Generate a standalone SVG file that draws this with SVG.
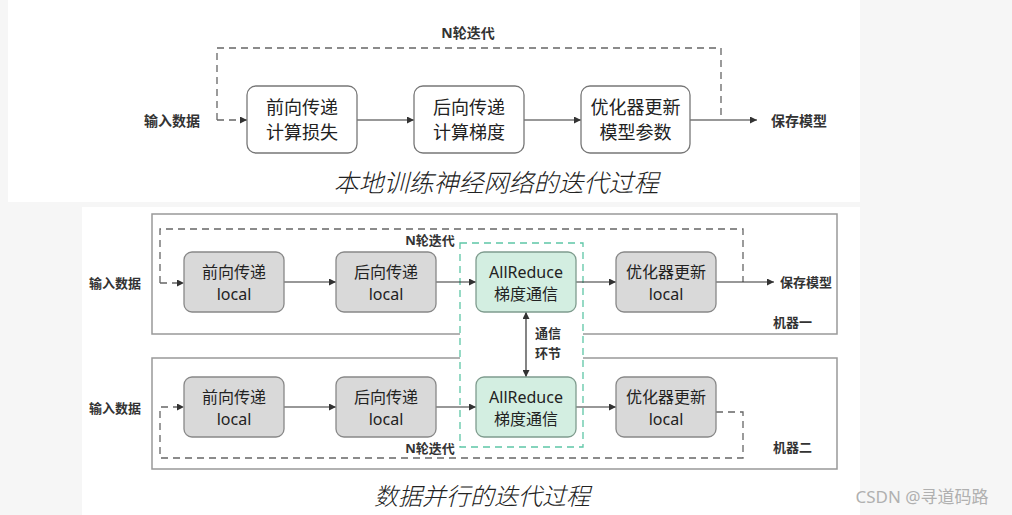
<svg xmlns="http://www.w3.org/2000/svg" width="1012" height="515" viewBox="0 0 1012 515">
<defs>
<marker id="ah" viewBox="0 0 10 10" refX="10" refY="5" markerWidth="7" markerHeight="7" markerUnits="userSpaceOnUse" orient="auto-start-reverse">
<path d="M0,0 L10,5 L0,10 z" fill="#333"/>
</marker>
</defs>
<style>
text{font-family:"Noto Sans","Noto Sans CJK SC",sans-serif;fill:#222;dominant-baseline:central}
.lbl{font-size:13px;font-weight:bold;fill:#333}
.lbt{font-size:14px}
.bx{font-size:18px;text-anchor:middle;fill:#222}
.bs{font-size:16px;text-anchor:middle;fill:#222}
.title{font-size:25px;font-style:italic;text-anchor:middle;fill:#222;font-weight:300}
.wbox{fill:#fff;stroke:#777;stroke-width:1.3}
.gbox{fill:#d9d9d9;stroke:#888;stroke-width:1.3}
.abox{fill:#d3eee1;stroke:#7f9c8e;stroke-width:1.3}
.mach{fill:none;stroke:#999;stroke-width:1.5}
.dash{fill:none;stroke:#666;stroke-width:1.3;stroke-dasharray:7 5}
.sol{fill:none;stroke:#333;stroke-width:1.2}
</style>
<rect x="0" y="0" width="1012" height="515" fill="#f6f6f6"/>
<rect x="8" y="0" width="852" height="202" fill="#fff"/>
<rect x="82" y="207" width="778" height="308" fill="#fff"/>

<!-- top diagram -->
<g id="top-connectors">
<path class="dash" d="M217,120 L217,48 L721,48 L721,120"/>
<path class="dash" d="M217,120 L247,120" marker-end="url(#ah)"/>
<path class="sol" d="M357,120 L414,120" marker-end="url(#ah)"/>
<path class="sol" d="M524,120 L581,120" marker-end="url(#ah)"/>
<path class="sol" d="M690,120 L757,120" marker-end="url(#ah)"/>
</g>
<g id="top-labels">
<text class="lbl lbt" x="468" y="32" text-anchor="middle">N轮迭代</text>
<text class="lbl lbt" x="172" y="120" text-anchor="middle">输入数据</text>
<text class="lbl lbt" x="799" y="120" text-anchor="middle">保存模型</text>
</g>
<g id="t-forward">
<rect class="wbox" x="247" y="86" width="110" height="67" rx="9"/>
<text class="bx" x="302" y="107">前向传递</text>
<text class="bx" x="302" y="132">计算损失</text>
</g>
<g id="t-backward">
<rect class="wbox" x="414" y="86" width="110" height="67" rx="9"/>
<text class="bx" x="469" y="107">后向传递</text>
<text class="bx" x="469" y="132">计算梯度</text>
</g>
<g id="t-optim">
<rect class="wbox" x="581" y="86" width="109" height="67" rx="9"/>
<text class="bx" x="635.5" y="107">优化器更新</text>
<text class="bx" x="635.5" y="132">模型参数</text>
</g>
<text class="title" x="496" y="182">本地训练神经网络的迭代过程</text>

<!-- bottom diagram -->
<g id="machine1">
<rect class="mach" x="152" y="214" width="685" height="120"/>
<text class="lbl" x="773" y="322">机器一</text>
</g>
<g id="machine2">
<rect class="mach" x="152" y="358" width="685" height="111"/>
<text class="lbl" x="773" y="447">机器二</text>
</g>
<g id="comm-region">
<rect x="460" y="243" width="123" height="204" fill="#fff" stroke="#5ec6a6" stroke-width="1.3" stroke-dasharray="7 5"/>
</g>

<g id="connectors">
<path class="dash" d="M160,283 L160,229 L743,229 L743,282"/>
<path class="dash" d="M160,283 L184,283" marker-end="url(#ah)"/>
<path class="sol" d="M284,282 L336,282" marker-end="url(#ah)"/>
<path class="sol" d="M436,282 L476,282" marker-end="url(#ah)"/>
<path class="sol" d="M576,282 L616,282" marker-end="url(#ah)"/>
<path class="sol" d="M716,282 L774,282" marker-end="url(#ah)"/>
<path class="sol" d="M526,312 L526,377" marker-start="url(#ah)" marker-end="url(#ah)"/>
<path class="dash" d="M716,412 L743,412 L743,458 L160,458 L160,407 L184,407" marker-end="url(#ah)"/>
<path class="sol" d="M284,407 L336,407" marker-end="url(#ah)"/>
<path class="sol" d="M436,407 L476,407" marker-end="url(#ah)"/>
<path class="sol" d="M576,407 L616,407" marker-end="url(#ah)"/>
</g>

<g id="bottom-labels">
<text class="lbl" x="115" y="283" text-anchor="middle">输入数据</text>
<text class="lbl" x="115" y="408" text-anchor="middle">输入数据</text>
<text class="lbl" x="780" y="282">保存模型</text>
<text class="lbl" x="430" y="240" text-anchor="middle">N轮迭代</text>
<text class="lbl" x="430" y="448" text-anchor="middle">N轮迭代</text>
<text class="lbl" x="548" y="333" text-anchor="middle">通信</text>
<text class="lbl" x="548" y="353" text-anchor="middle">环节</text>
</g>

<g id="m1-forward">
<rect class="gbox" x="184" y="252" width="100" height="60" rx="8"/>
<text class="bs" x="234" y="272">前向传递</text>
<text class="bs" x="234" y="294">local</text>
</g>
<g id="m1-backward">
<rect class="gbox" x="336" y="252" width="100" height="60" rx="8"/>
<text class="bs" x="386" y="272">后向传递</text>
<text class="bs" x="386" y="294">local</text>
</g>
<g id="m1-allreduce">
<rect class="abox" x="476" y="252" width="100" height="60" rx="8"/>
<text class="bs" x="526" y="272">AllReduce</text>
<text class="bs" x="526" y="294">梯度通信</text>
</g>
<g id="m1-optim">
<rect class="gbox" x="616" y="252" width="100" height="60" rx="8"/>
<text class="bs" x="666" y="272">优化器更新</text>
<text class="bs" x="666" y="294">local</text>
</g>

<g id="m2-forward">
<rect class="gbox" x="184" y="377" width="100" height="60" rx="8"/>
<text class="bs" x="234" y="397">前向传递</text>
<text class="bs" x="234" y="419">local</text>
</g>
<g id="m2-backward">
<rect class="gbox" x="336" y="377" width="100" height="60" rx="8"/>
<text class="bs" x="386" y="397">后向传递</text>
<text class="bs" x="386" y="419">local</text>
</g>
<g id="m2-allreduce">
<rect class="abox" x="476" y="377" width="100" height="60" rx="8"/>
<text class="bs" x="526" y="397">AllReduce</text>
<text class="bs" x="526" y="419">梯度通信</text>
</g>
<g id="m2-optim">
<rect class="gbox" x="616" y="377" width="100" height="60" rx="8"/>
<text class="bs" x="666" y="397">优化器更新</text>
<text class="bs" x="666" y="419">local</text>
</g>

<text class="title" x="482" y="495" style="font-size:24px">数据并行的迭代过程</text>
<text x="922" y="496" text-anchor="middle" style="font-size:17px;fill:#b0b0b0">CSDN @寻道码路</text>
</svg>
